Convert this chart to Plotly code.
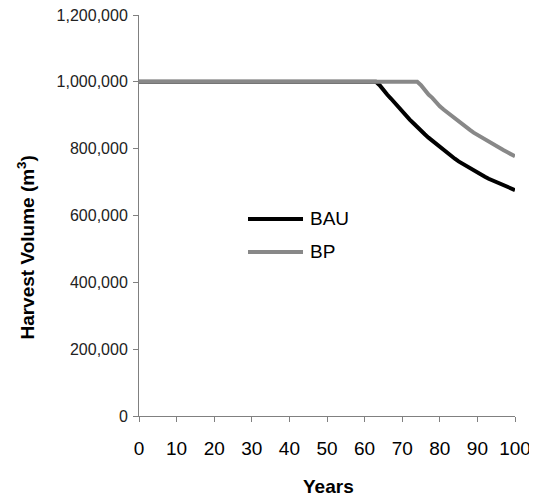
import plotly.graph_objects as go

years = list(range(0, 101))

# BAU: flat at 1,000,000 through year 63, then declining
bau_decline = [990000, 975000, 962000, 950000, 937000, 922000, 912000, 898000,
               887000, 876000, 864000, 855000, 843000, 833000, 824000, 812000,
               803000, 795000, 786000, 778000, 770000, 762000, 755000, 748000,
               741000, 735000, 728000, 722000, 716000, 710000, 705000, 699000,
               694000, 689000, 684000, 680000, 676000]
bau = [1000000] * (101 - len(bau_decline)) + bau_decline

# BP: flat at 1,000,000 through year 74, then declining
bp_decline = [990000, 975000, 962000, 952000, 938000, 927000, 917000, 908000,
              898000, 889000, 880000, 872000, 863000, 856000, 848000, 841000,
              834000, 827000, 820000, 814000, 807000, 801000, 795000, 789000,
              783000, 777000]
bp = [1000000] * (101 - len(bp_decline)) + bp_decline

series_names = ["BAU", "BP"]
series_colors = ["#000000", "#888888"]

x_ticks = list(range(0, 101, 10))
y_ticks = [0, 200000, 400000, 600000, 800000, 1000000, 1200000]
y_ticktext = ["0", "200,000", "400,000", "600,000", "800,000", "1,000,000", "1,200,000"]

x_title = "Years"
y_title = "Harvest Volume (m<sup>3</sup>)"

fig = go.Figure()
for name, vals, col in zip(series_names, [bau, bp], series_colors):
    fig.add_trace(go.Scatter(x=years, y=vals, mode="lines", name=name,
                             line=dict(color=col, width=4), showlegend=False))

# legend drawn as key lines + labels (longer keys as in the reference)
legend_y = [0.4913, 0.409]
for name, col, ly in zip(series_names, series_colors, legend_y):
    fig.add_shape(type="line", xref="paper", yref="paper",
                  x0=0.2899, x1=0.4362, y0=ly, y1=ly,
                  line=dict(color=col, width=4))
    fig.add_annotation(text=name, xref="paper", yref="paper", x=0.4495, y=ly,
                       xanchor="left", yanchor="middle", showarrow=False,
                       font=dict(size=19, color="#000000"))

fig.add_annotation(text="<b>" + y_title + "</b>", xref="paper", yref="paper",
                   x=-0.3005, y=0.42, textangle=-90, showarrow=False,
                   xanchor="center", yanchor="middle",
                   font=dict(size=19, color="#000000"))
fig.add_annotation(text="<b>" + x_title + "</b>", xref="paper", yref="paper",
                   x=0.5027, y=-0.1746, showarrow=False,
                   xanchor="center", yanchor="middle",
                   font=dict(size=19, color="#000000"))

# the page body adds an 8px offset, so the figure is sized to fit after it
fig.update_layout(
    width=529, height=492,
    margin=dict(l=131, r=22, t=7, b=84, autoexpand=False),
    paper_bgcolor="white", plot_bgcolor="white",
    font=dict(family="Liberation Sans, Arial, sans-serif", color="#000000"),
    showlegend=False,
)
fig.update_xaxes(
    range=[0, 100], tickvals=x_ticks, ticks="outside", ticklen=5,
    tickcolor="#808080", showline=True, linecolor="#808080", linewidth=1,
    showgrid=False, zeroline=False, automargin=False, ticklabelstandoff=10,
    ticklabeloverflow="allow",
    tickfont=dict(size=19, color="#000000"),
)
fig.update_yaxes(
    range=[0, 1200000], tickvals=y_ticks, ticktext=y_ticktext,
    ticks="outside", ticklen=5, tickcolor="#808080",
    showline=True, linecolor="#808080", linewidth=1,
    showgrid=False, zeroline=False, automargin=False, ticklabelstandoff=2,
    ticklabeloverflow="allow",
    tickfont=dict(size=16, color="#222222"),
)

fig.write_html("out.html")
